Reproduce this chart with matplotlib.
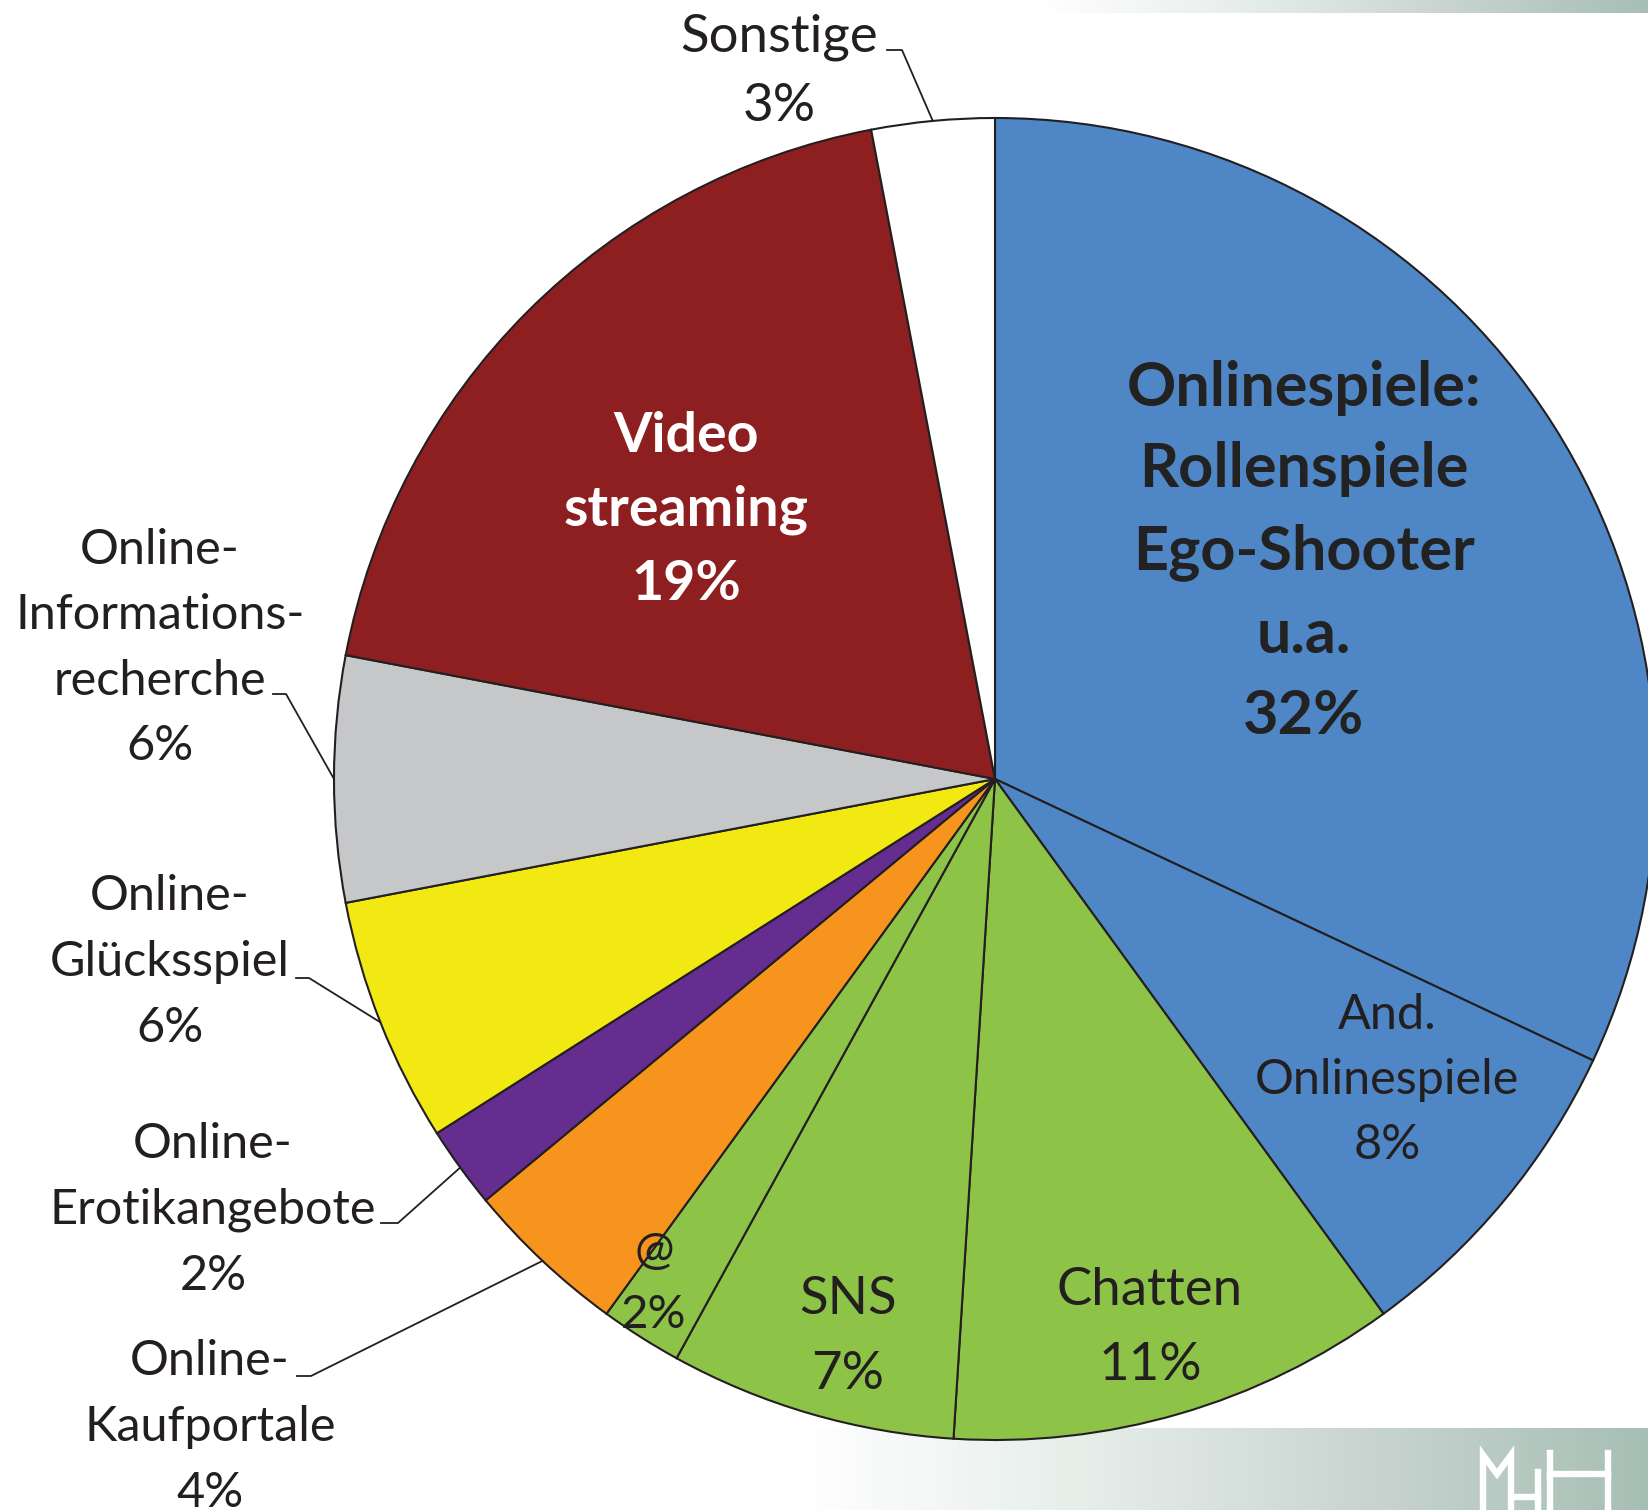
import matplotlib

matplotlib.use("Agg")
import matplotlib.pyplot as plt
import numpy as np
from matplotlib.colors import LinearSegmentedColormap

W, H = 1649, 1510

# slices, clockwise from 12 o'clock
labels = [
    "Onlinespiele:\nRollenspiele\nEgo-Shooter\nu.a.",
    "And.\nOnlinespiele",
    "Chatten",
    "SNS",
    "@",
    "Online-\nKaufportale",
    "Online-\nErotikangebote",
    "Online-\nGlücksspiel",
    "Online-\nInformations-\nrecherche",
    "Video\nstreaming",
    "Sonstige",
]
shares = [32, 8, 11, 7, 2, 4, 2, 6, 6, 19, 3]
colors = ["#4F86C6", "#4F86C6", "#8DC448", "#8DC448", "#8DC448", "#F7941D",
          "#662D91", "#F2E912", "#C6C7C9", "#8E1F20", "#FFFFFF"]

INK = "#231F20"
plt.rcParams["font.family"] = ["Lato", "DejaVu Sans"]


def up(y):
    return H - y


fig = plt.figure(figsize=(W / 100, H / 100), dpi=100)
ax = fig.add_axes([0, 0, 1, 1])

# decorative gradient strips (top right / bottom right)
strip = LinearSegmentedColormap.from_list("strip", ["#FFFFFF", "#E6EEEA", "#C9D4D0", "#A6BFB4"])
grad = np.linspace(0, 1, 256).reshape(1, -1)
ax.imshow(grad, cmap=strip, extent=(1040, W, up(13), up(0)), aspect="auto", zorder=0)
ax.imshow(grad, cmap=strip, extent=(800, W, up(H), up(1428)), aspect="auto", zorder=0)

cx, cy, r = 995, up(779), 661
wedges, _ = ax.pie(
    shares,
    colors=colors,
    startangle=90,
    counterclock=False,
    center=(cx, cy),
    radius=r,
    wedgeprops=dict(edgecolor=INK, linewidth=1.5),
)
for w in wedges:
    w.set_zorder(2)

# label layout: (x, y centre in image px, size, line spacing, bold, colour)
layout = [
    (1304, 552, 44, 1.56, True, "#222222"),
    (1387, 1080, 35, 1.58, False, INK),
    (1150, 1328, 38, 1.72, False, INK),
    (848, 1337, 38, 1.72, False, INK),
    (654, 1283, 34, 1.62, False, INK),
    (210, 1427, 35, 1.60, False, INK),
    (213, 1210, 35, 1.60, False, INK),
    (170, 962, 35, 1.60, False, INK),
    (160, 648, 35, 1.60, False, INK),
    (686, 510, 40, 1.57, True, "white"),
    (779, 72, 38, 1.58, False, INK),
]
for lab, share, (x, y, size, ls, bold, col) in zip(labels, shares, layout):
    ax.text(x, up(y), f"{lab}\n{share}%", ha="center", va="center", fontsize=size,
            fontweight="bold" if bold else "normal", color=col, linespacing=ls, zorder=5)

# leader lines for outside labels: horizontal stub, then to wedge mid on the rim
leaders = {
    10: ((887, 50), (902, 50)),
    8: ((273, 694), (286, 694)),
    7: ((296, 978), (309, 978)),
    6: ((381, 1223), (398, 1223)),
    5: ((297, 1376), (311, 1376)),
}
for i, (p0, p1) in leaders.items():
    t = np.deg2rad((wedges[i].theta1 + wedges[i].theta2) / 2)
    ex, ey = cx + r * np.cos(t), cy + r * np.sin(t)
    ax.plot([p0[0], p1[0], ex], [up(p0[1]), up(p1[1]), ey], color=INK, linewidth=1.3, zorder=4)

# logo
lw = 4.6
ax.plot([1483, 1483, 1497, 1511, 1511], [up(1510), up(1455), up(1474), up(1455), up(1510)],
        color="white", linewidth=lw, solid_joinstyle="miter", zorder=3)
ax.plot([1515, 1538], [up(1497), up(1497)], color="white", linewidth=lw, zorder=3)
ax.plot([1538, 1538], [up(1472), up(1510)], color="white", linewidth=lw, zorder=3)
ax.plot([1550, 1550], [up(1453), up(1510)], color="white", linewidth=lw, zorder=3)
ax.plot([1608, 1608], [up(1453), up(1510)], color="white", linewidth=lw, zorder=3)
ax.plot([1550, 1608], [up(1474), up(1474)], color="white", linewidth=lw, zorder=3)

ax.set_xlim(0, W)
ax.set_ylim(0, H)
ax.set_aspect("equal")
ax.axis("off")
fig.savefig("out.png", dpi=100)
plt.close(fig)
